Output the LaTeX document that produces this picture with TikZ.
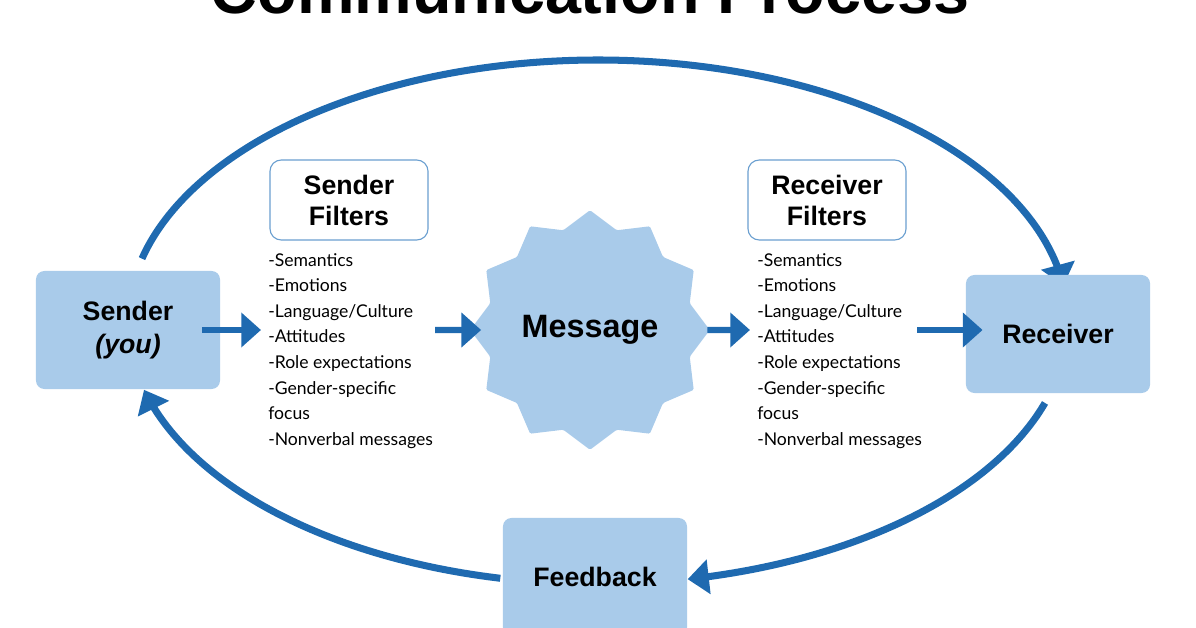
\documentclass[tikz,border=0pt]{standalone}
\usepackage{fontspec}
\setmainfont{Liberation Sans}
\newfontfamily\listfont{Lato}
\usetikzlibrary{positioning, shapes.geometric, arrows.meta}
\definecolor{lineblue}{HTML}{1F6AB0}
\definecolor{boxblue}{HTML}{A9CBEA}
\definecolor{edgeblue}{HTML}{6A9FD0}
\tikzset{
  stage/.style={draw=none, fill=boxblue, rounded corners=6pt, minimum width=4.6cm, minimum height=2.95cm, font=\bfseries\fontsize{19}{23}\selectfont, align=center},
  filter/.style={draw=edgeblue, line width=0.8pt, fill=white, rounded corners=8pt, minimum width=3.95cm, minimum height=2cm, font=\bfseries\fontsize{19}{22}\selectfont, align=center},
  items/.style={font=\listfont\fontsize{12.5}{18.2}\selectfont, align=left, anchor=north west, inner sep=0pt},
  flow/.style={-{Triangle[length=14pt,width=24pt]}, line width=4.5pt, lineblue},
  loop/.style={-{Triangle[length=15pt,width=24pt]}, line width=5pt, lineblue}
}
\begin{document}
\begin{tikzpicture}[x=0.025cm, y=-0.025cm]
			\useasboundingbox (0,0) rectangle (1196,628);
			\clip (0,0) rectangle (1196,628);
			% Title
			\node[font=\bfseries\fontsize{46}{50}\selectfont, anchor=base] (title) at (590,14) {Communication Process};
			% Loop around the stages
			\draw[loop] plot[domain=166:8, samples=80, smooth] ({598+470*cos(\x)},{322-262*sin(\x)});
			\draw[loop] plot[domain=342:281, samples=40, smooth] ({598+470*cos(\x)},{322-262*sin(\x)});
			\draw[loop] plot[domain=258:195, samples=40, smooth] ({598+470*cos(\x)},{322-262*sin(\x)});
			% Stages
			\node[stage] (sender) at (128,330) {Sender\\\textit{(you)}};
			\node[stage] (receiver) at (1058,334) {Receiver};
			\node[stage] (feedback) at (595,577) {Feedback};
			\node[draw=none, fill=boxblue, star, star points=12, star point ratio=1.16, rounded corners=1pt, minimum size=5.35cm, font=\bfseries\fontsize{23}{26}\selectfont] (message) at (590,330) {Message};
			% Filters
			\node[filter] (sfilt) at (349,200) {Sender\\Filters};
			\node[filter] (rfilt) at (827,200) {Receiver\\Filters};
			\node[items] (slist) at (268,253) {-Semantics\\-Emotions\\-Language/Culture\\-Attitudes\\-Role expectations\\-Gender-specific\\focus\\-Nonverbal messages};
			\node[items] (rlist) at (757,253) {-Semantics\\-Emotions\\-Language/Culture\\-Attitudes\\-Role expectations\\-Gender-specific\\focus\\-Nonverbal messages};
			% Arrows along the flow
			\draw[flow] ([xshift=-13]sender.east |- 0,330) -- ([xshift=-5]slist.west |- 0,330);
			\draw[flow] (435,330) -- ([xshift=8]message.west);
			\draw[flow] ([xshift=-2]message.east) -- ([xshift=-5]rlist.west |- 0,330);
			\draw[flow] (917,330) -- ([xshift=12]receiver.west |- 0,330);
		\end{tikzpicture}
\end{document}
